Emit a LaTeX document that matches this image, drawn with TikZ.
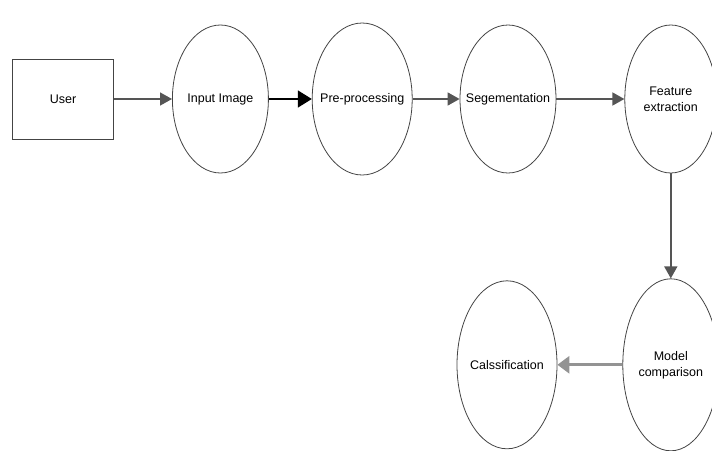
\documentclass[tikz,border=0pt]{standalone}
\usepackage{fontspec}
\setmainfont{Liberation Sans}
\usetikzlibrary{arrows.meta,positioning,shapes.geometric}
\definecolor{flowgray}{HTML}{555555}
\definecolor{edgegray}{HTML}{444444}

\begin{document}
\begin{tikzpicture}[
  x=1pt, y=1pt,
  node distance=45pt and 45pt,
  every node/.style={font=\fontsize{12.5}{16}\selectfont},
  userbox/.style={rectangle, draw=edgegray, line width=1pt, fill=white,
    minimum width=101pt, minimum height=80pt, align=center},
  stage/.style={ellipse, draw=edgegray, line width=0.8pt, fill=white,
    minimum width=96pt, minimum height=148pt, inner xsep=-25pt, inner ysep=0pt, align=center},
  arrow/.style={-{Triangle[length=12pt,width=13pt]}, line width=1.6pt, flowgray},
  boldarrow/.style={-{Triangle[length=14pt,width=17pt]}, line width=1.6pt, black},
  widearrow/.style={-{Triangle[length=12pt,width=17pt]}, line width=3pt, gray!85},
]
\useasboundingbox (0,0) rectangle (712,-450);

% Top row
\node[userbox] (user) at (63,-99) {User};
\node[stage, right=58pt of user] (input) {Input Image};
\node[stage, minimum width=100pt, minimum height=152pt, right=43pt of input] (prep) {Pre-processing};
\node[stage, right=47pt of prep] (seg) {Segementation};
\node[stage, minimum width=92pt, right=68pt of seg] (feat) {Feature\\extraction};

% Bottom row
\node[stage, minimum height=172pt, below=105pt of feat] (model) {Model\\comparison};
\node[stage, minimum width=100pt, minimum height=168pt, left=65pt of model] (class) {Calssification};

% Arrows
\draw[arrow] (user) -- (input);
\draw[boldarrow] (input) -- (prep);
\draw[arrow] (prep) -- (seg);
\draw[arrow] (seg) -- (feat);
\draw[arrow] (feat) -- (model);
\draw[widearrow] (model) -- (class);
\end{tikzpicture}
\end{document}
